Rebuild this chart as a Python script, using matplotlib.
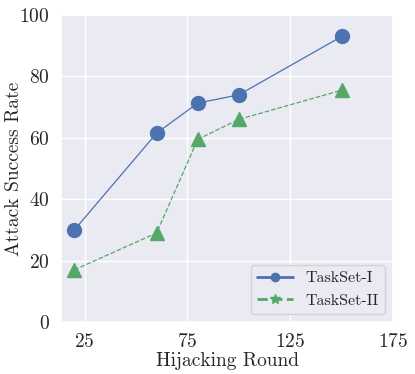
import matplotlib
matplotlib.use("Agg")
import matplotlib.pyplot as plt
import seaborn as sns
from matplotlib.lines import Line2D

rounds = [20, 60, 80, 100, 150]
taskset_1 = [30.0, 61.5, 71.3, 74.0, 93.0]
taskset_2 = [17.0, 29.0, 59.5, 66.0, 75.5]
series_names = ["TaskSet-I", "TaskSet-II"]
xticks = [25, 75, 125, 175]

sns.set_theme(style="darkgrid")
plt.rcParams['font.family'] = ['cmr10', 'DejaVu Serif']
plt.rcParams['axes.formatter.use_mathtext'] = True
plt.rcParams['mathtext.fontset'] = 'cm'

blue = "#4C72B0"
green = "#55A868"

fig = plt.figure(figsize=(4.15, 3.74), dpi=100)
ax = fig.add_axes([61/415, 1-322/374, (393-61)/415, (322-15)/374])
ax.plot(rounds, taskset_1, color=blue, lw=0.9, marker='o', ms=10)
ax.plot(rounds, taskset_2, color=green, lw=0.9, ls='--', marker='^', ms=10)
ax.set_xlim(13.5, 175)
ax.set_ylim(0, 100)
ax.set_xticks(xticks)
ax.set_yticks([0, 20, 40, 60, 80, 100])
ax.tick_params(labelsize=14, pad=2)
ax.set_xlabel("Hijacking Round", fontsize=14, labelpad=1)
ax.set_ylabel("Attack Success Rate", fontsize=14)
ax.yaxis.set_label_coords(-0.115, 0.5)

handles = [Line2D([], [], color=blue, lw=2, marker='o', ms=6),
           Line2D([], [], color=green, lw=2, ls='--', marker='*', ms=7)]
ax.legend(handles, series_names, loc='lower right', fontsize=11.5, handlelength=2.2,
          borderaxespad=0.5)

fig.savefig("out.png", dpi=100)
